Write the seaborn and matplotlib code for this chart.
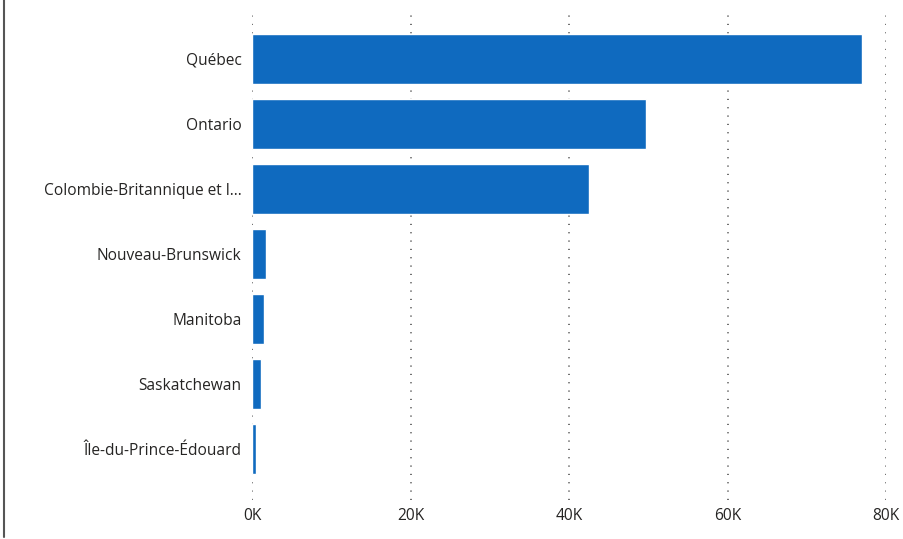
import matplotlib
matplotlib.use("Agg")
import matplotlib.pyplot as plt
from matplotlib.lines import Line2D
from matplotlib.ticker import FuncFormatter
import pandas as pd
import seaborn as sns

# Data
provinces = [
    "Québec",
    "Ontario",
    "Colombie-Britannique et l…",
    "Nouveau-Brunswick",
    "Manitoba",
    "Saskatchewan",
    "Île-du-Prince-Édouard",
]
values = [77000, 49750, 42550, 1690, 1500, 1030, 400]
x_ticks = [0, 20000, 40000, 60000, 80000]

df = pd.DataFrame({"province": provinces, "valeur": values})

sns.set_theme(style="white")
plt.rcParams["font.family"] = ["Open Sans", "DejaVu Sans"]

fig = plt.figure(figsize=(9.04, 5.39), dpi=100)
W, H = 904, 539
ax = fig.add_axes([252.5 / W, 1 - 500 / H, (886 - 252.5) / W, (500 - 14) / H])

sns.barplot(data=df, x="valeur", y="province", orient="h", color="#0F6ABF",
            saturation=1, width=0.77, ax=ax, zorder=3)

ax.set_xlim(0, 80000)
ax.set_ylim(6.78, -0.69)
ax.set_xticks(x_ticks)
ax.xaxis.set_major_formatter(FuncFormatter(lambda v, p: f"{v/1000:.0f}K"))
ax.set_xlabel("")
ax.set_ylabel("")

for s in ax.spines.values():
    s.set_visible(False)

ax.grid(axis="x", color="#555555", linestyle=(0, (0.7, 4.3)), linewidth=1.2, zorder=0)
ax.grid(axis="y", visible=False)
ax.tick_params(axis="both", length=0, labelsize=11.2, labelcolor="#252423")
ax.tick_params(axis="y", pad=8)
ax.tick_params(axis="x", pad=6)

# Card edge on the left side
fig.add_artist(Line2D([4.5 / W, 4.5 / W], [2 / H, 1.0], transform=fig.transFigure,
                      color="#555555", linewidth=1.5))

fig.savefig("out.png", dpi=100)
